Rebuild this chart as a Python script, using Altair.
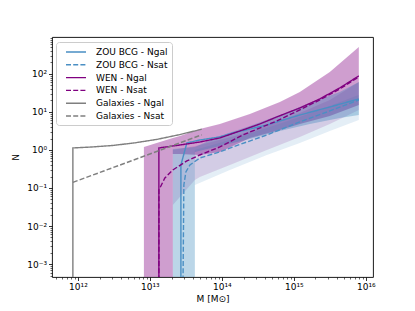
import altair as alt
import pandas as pd

# ---------------- line data (log10 M, N) ----------------
gal_ngal_logm = [11.93, 11.93, 12.2, 12.5, 12.8, 13.1, 13.4, 13.72]
gal_ngal_n = [1e-4, 1.13, 1.2, 1.32, 1.55, 1.9, 2.5, 3.5]
gal_nsat_logm = [11.93, 13.72]
gal_nsat_n = [0.14, 2.5]

wen_ngal_logm = [13.125, 13.125, 13.417, 13.694, 13.972, 14.292, 14.528, 14.764, 15.083, 15.361, 15.639, 15.903]
wen_ngal_n = [1e-4, 1.13, 1.35, 1.62, 2.07, 3.36, 4.83, 7.39, 12.7, 22.0, 42.8, 88.6]
wen_nsat_logm = [13.125, 13.125, 13.208, 13.319, 13.514, 13.694, 13.972, 14.292, 14.764, 15.083, 15.361, 15.639, 15.903]
wen_nsat_n = [1e-4, 0.0886, 0.183, 0.298, 0.514, 0.738, 1.2, 2.48, 5.8, 11.3, 20.7, 40.3, 83.4]

zou_ngal_logm = [13.431, 13.431, 13.514, 13.694, 13.972, 14.153, 14.625, 15.083, 15.5, 15.903]
zou_ngal_n = [1e-4, 0.403, 1.53, 1.83, 2.2, 2.8, 4.55, 8.3, 13.5, 22.0]
zou_nsat_logm = [13.458, 13.472, 13.5, 13.556, 13.694, 13.972, 14.153, 14.625, 15.083, 15.5, 15.903]
zou_nsat_n = [1e-4, 0.12, 0.264, 0.403, 0.616, 0.886, 1.2, 2.48, 5.46, 10.6, 20.7]

# ---------------- band data (log10 M, upper, lower) ----------------
wen_ngal_band_logm = [12.917, 13.139, 13.319, 13.319, 13.417, 13.694, 13.972, 14.389, 14.806, 15.083, 15.5, 15.903]
wen_ngal_band_hi = [1.2, 1.62, 2.07, 2.07, 2.34, 3.57, 4.83, 8.86, 18.3, 33.6, 113, 513]
wen_ngal_band_lo = [1e-4, 1e-4, 1e-4, 0.785, 0.785, 0.738, 0.886, 2.07, 3.36, 4.83, 7.85, 15.3]

wen_nsat_band_logm = [13.319, 13.625, 13.694, 14.181, 14.625, 15.083, 15.5, 15.903]
wen_nsat_band_hi = [1.0, 1.27, 1.35, 2.34, 4.28, 9.41, 20.7, 61.6]
wen_nsat_band_lo = [0.0357, 0.162, 0.195, 0.455, 1.0, 2.2, 4.83, 11.3]

zou_ngal_band_logm = [13.319, 13.625, 13.625, 13.972, 14.389, 14.806, 15.222, 15.639, 15.903]
zou_ngal_band_hi = [1.06, 1.2, 1.2, 2.34, 4.28, 8.34, 17.3, 33.6, 61.6]
zou_ngal_band_lo = [1e-4, 1e-4, 0.886, 1.27, 1.95, 3.16, 4.83, 6.95, 8.34]

zou_nsat_band_logm = [13.625, 14.111, 14.625, 15.083, 15.5, 15.903]
zou_nsat_band_hi = [1.0, 1.83, 3.79, 7.39, 14.4, 28.0]
zou_nsat_band_lo = [0.12, 0.298, 0.738, 1.53, 3.16, 6.16]

series_names = ["ZOU BCG - Ngal", "ZOU BCG - Nsat", "WEN - Ngal", "WEN - Nsat",
                "Galaxies - Ngal", "Galaxies - Nsat"]
series_colors = ["#4a8fc4", "#4a8fc4", "#800080", "#800080", "#7f7f7f", "#7f7f7f"]
series_dashes = [[1, 0], [5, 2.2], [1, 0], [5, 2.2], [1, 0], [5, 2.2]]

x_major = [1e12, 1e13, 1e14, 1e15, 1e16]
y_major = [1e-3, 1e-2, 1e-1, 1e0, 1e1, 1e2]
x_minor = [m * 10.0 ** k for k in range(11, 16) for m in range(2, 10)
           if 10 ** 11.64 <= m * 10.0 ** k <= 10 ** 16.1]
y_minor = [m * 10.0 ** k for k in range(-4, 3) for m in range(2, 10)
           if 10 ** -3.34 <= m * 10.0 ** k <= 10 ** 2.97]

# ---------------- tables ----------------
line_rows = []
for name, lm, nn in [
    ("ZOU BCG - Ngal", zou_ngal_logm, zou_ngal_n),
    ("ZOU BCG - Nsat", zou_nsat_logm, zou_nsat_n),
    ("WEN - Ngal", wen_ngal_logm, wen_ngal_n),
    ("WEN - Nsat", wen_nsat_logm, wen_nsat_n),
    ("Galaxies - Ngal", gal_ngal_logm, gal_ngal_n),
    ("Galaxies - Nsat", gal_nsat_logm, gal_nsat_n),
]:
    for i, (a, b) in enumerate(zip(lm, nn)):
        line_rows.append({"series": name, "M": 10 ** a, "N": b, "idx": i})
lines_df = pd.DataFrame(line_rows)


def band_df(logm, hi, lo):
    return pd.DataFrame({"M": [10 ** v for v in logm], "hi": hi, "lo": lo,
                         "idx": list(range(len(logm)))})


xscale = alt.Scale(type="log", domain=[10 ** 11.64, 10 ** 16.1], nice=False)
yscale = alt.Scale(type="log", domain=[10 ** -3.34, 10 ** 2.97], nice=False)

is_major = "abs(log(datum.value)/LN10 - round(log(datum.value)/LN10)) < 0.001"
x_lab = ("(" + is_major + ") ? '10' + ['\u00b9\u00b2','\u00b9\u00b3','\u00b9\u2074','\u00b9\u2075','\u00b9\u2076']"
         "[round(log(datum.value)/LN10)-12] : ''")
y_lab = ("(" + is_major + ") ? ['10\u207b\u00b3','10\u207b\u00b2','10\u207b\u00b9','10\u2070','10\u00b9','10\u00b2']"
         "[round(log(datum.value)/LN10)+3] : ''")

tick_size = {"condition": {"test": is_major, "value": 3.5}, "value": 2}
tick_width = {"condition": {"test": is_major, "value": 0.8}, "value": 0.6}


def band_layer(df, color, op):
    return alt.Chart(df).mark_area(color=color, opacity=op, clip=True).encode(
        x=alt.X("M:Q", scale=xscale),
        y=alt.Y("hi:Q", scale=yscale, stack=None),
        y2="lo:Q",
    )


bands = [
    band_layer(band_df(wen_ngal_band_logm, wen_ngal_band_hi, wen_ngal_band_lo), "#800080", 0.38),
    band_layer(band_df(wen_nsat_band_logm, wen_nsat_band_hi, wen_nsat_band_lo), "#800080", 0.15),
    band_layer(band_df(zou_ngal_band_logm, zou_ngal_band_hi, zou_ngal_band_lo), "#1f77b4", 0.3),
    band_layer(band_df(zou_nsat_band_logm, zou_nsat_band_hi, zou_nsat_band_lo), "#1f77b4", 0.12),
]

leg = alt.Legend(orient="none", legendX=4, legendY=5, title=None,
                 symbolType="M-1,0L3,0", symbolSize=100, symbolStrokeWidth=1.4,
                 labelFontSize=9, labelFont="DejaVu Sans", labelColor="black",
                 padding=4, rowPadding=1.8, symbolOffset=5,
                 fillColor="rgba(255,255,255,0.8)", strokeColor="#cccccc",
                 cornerRadius=3, labelOffset=19)

lines = alt.Chart(lines_df).mark_line(strokeWidth=1.4, clip=True).encode(
    x=alt.X("M:Q", scale=xscale,
            axis=alt.Axis(values=x_major + x_minor, labelExpr=x_lab, tickSize=tick_size,
                          tickWidth=tick_width, grid=False, domain=False, orient="bottom",
                          title="M [M\u2299]", tickColor="black", labelPadding=2,
                          titlePadding=3, labelOverlap=False)),
    y=alt.Y("N:Q", scale=yscale,
            axis=alt.Axis(values=y_major + y_minor, labelExpr=y_lab, tickSize=tick_size,
                          tickWidth=tick_width, grid=False, domain=False, orient="left",
                          title="N", tickColor="black", labelPadding=2,
                          titlePadding=6, labelOverlap=False)),
    color=alt.Color("series:N", scale=alt.Scale(domain=series_names, range=series_colors),
                    legend=leg),
    strokeDash=alt.StrokeDash("series:N",
                              scale=alt.Scale(domain=series_names, range=series_dashes),
                              legend=leg),
    order=alt.Order("idx:Q"),
)

chart = alt.layer(*bands, lines).properties(
    width=321, height=240,
    autosize=alt.AutoSizeParams(type="none"),
    padding={"left": 44, "top": 29, "right": 34, "bottom": 26},
).configure_view(stroke="black", strokeWidth=0.9).configure_axis(
    labelFont="DejaVu Sans", labelFontSize=9, labelColor="black",
    titleFont="DejaVu Sans", titleFontSize=9, titleFontWeight="normal", titleColor="black",
).configure_legend(labelFont="DejaVu Sans")

chart.save("out.html", embed_options={"renderer": "svg", "actions": False})
